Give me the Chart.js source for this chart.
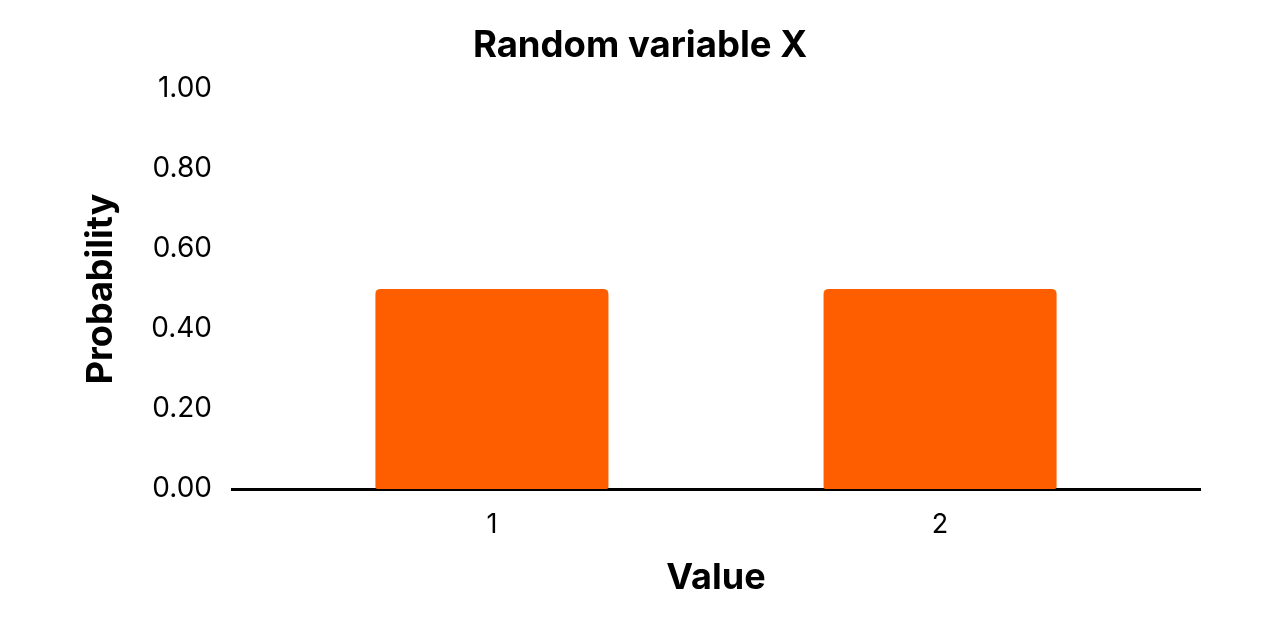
<!DOCTYPE html>
<html>
<head>
<meta charset="utf-8">
<script src="https://cdn.jsdelivr.net/npm/chart.js@4"></script>
<style>
  html, body { margin: 0; padding: 0; background: #fff; }
  #wrap { width: 1280px; height: 622px; }
</style>
</head>
<body>
<div id="wrap"><canvas id="myChart"></canvas></div>
<script>
// data
const categories = [1, 2];
const probabilities = [0.5, 0.5];
const yTicks = [0, 0.2, 0.4, 0.6, 0.8, 1.0];

const ink = '#000000';
const orange = '#FF5E00';

const canvas = document.getElementById('myChart');
const myChart = new Chart(canvas, {
    type: 'bar',
    data: {
        datasets: [{
            label: 'Probability',
            data: categories.map((c, i) => ({ x: c, y: probabilities[i] })),
            backgroundColor: orange,
            borderRadius: { topLeft: 5, topRight: 5, bottomLeft: 2, bottomRight: 2 },
            borderSkipped: false,
            categoryPercentage: 1,
            barPercentage: 0.52
        }]
    },
    options: {
        responsive: true,
        maintainAspectRatio: false,
        animation: false,
        layout: { padding: 0 },
        plugins: {
            legend: { display: false },
            tooltip: { enabled: false },
            title: {
                display: true,
                text: 'Random variable X',
                color: ink,
                font: { family: 'Inter', size: 36.5, weight: 'bold' },
                padding: { top: 24, bottom: 21 }
            }
        },
        scales: {
            x: {
                type: 'linear',
                min: 0.42,
                max: 2.58,
                offset: false,
                grid: { display: false },
                border: { display: true, color: ink, width: 3 },
                afterBuildTicks: s => { s.ticks = categories.map(v => ({ value: v })); },
                afterFit: s => { s.height = 133; },
                ticks: {
                    color: ink,
                    padding: 12,
                    font: { family: 'Inter', size: 27 },
                    callback: v => String(v)
                },
                title: {
                    display: true,
                    text: 'Value',
                    color: ink,
                    font: { family: 'Inter', size: 36, weight: 'bold' },
                    padding: { top: 0, bottom: 22 }
                }
            },
            y: {
                min: 0,
                max: 1,
                grid: { display: false },
                border: { display: false },
                afterBuildTicks: s => { s.ticks = yTicks.map(v => ({ value: v })); },
                afterFit: s => { s.width = 232; },
                ticks: {
                    color: ink,
                    padding: 12,
                    font: { family: 'Inter', size: 28 },
                    callback: v => Number(v).toFixed(2)
                },
                title: {
                    display: true,
                    text: 'Probability',
                    color: ink,
                    font: { family: 'Inter', size: 36, weight: 'bold' },
                    padding: { top: 80, bottom: 0 }
                }
            },
            // empty right axis keeps the plot 80px off the right edge
            yRight: {
                position: 'right',
                display: true,
                grid: { display: false },
                border: { display: false },
                ticks: { display: false },
                afterFit: s => { s.width = 80; }
            }
        }
    }
});
</script>
</body>
</html>
